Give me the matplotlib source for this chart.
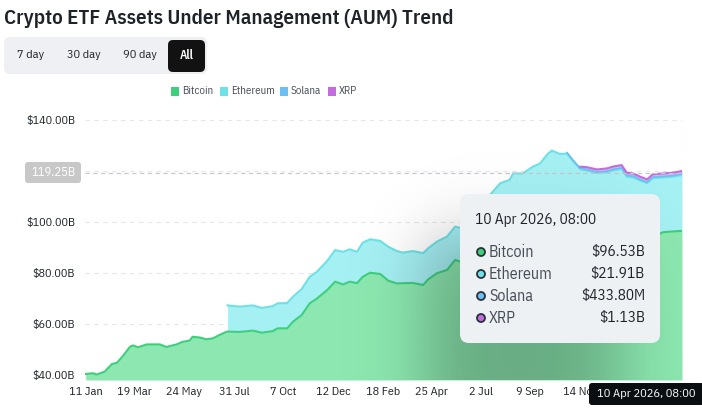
import numpy as np
import matplotlib.pyplot as plt
from matplotlib.patches import FancyBboxPatch, Rectangle, Circle

plt.rcParams['font.family'] = ['IBM Plex Sans Condensed', 'DejaVu Sans']

# days since 11 Jan 2024, values in $B
days = [0, 10, 15, 26, 36, 43, 51, 61, 65, 72, 84, 102, 111, 125, 133, 143, 147, 157,
        166, 175, 184, 194,
        195, 212, 230, 242, 257, 264, 277, 285, 297, 308, 318, 332, 343, 354, 363, 373,
        381, 391, 405, 416, 428, 436, 450, 464, 471, 483, 497, 508, 515, 533, 556, 570,
        583, 588, 601, 615, 625, 636, 641, 652, 662, 670, 680, 689, 703, 717, 725, 737,
        744, 753, 762, 772, 780, 794, 808, 820]
bitcoin = [40.4, 40.7, 40.2, 41.3, 44.3, 44.8, 47.4, 51.1, 51.6, 50.9, 52.0, 52.0, 51.0,
           52.0, 53.0, 53.5, 55.0, 54.7, 54.0, 54.4, 55.7, 57.0,
           57.0, 56.9, 57.4, 56.6, 57.2, 58.3, 58.3, 60.9, 63.5, 68.1, 70.0, 73.3, 76.6,
           75.5, 76.6, 76.0, 78.5, 80.1, 79.6, 77.0, 75.9, 76.0, 76.1, 75.3, 77.5, 79.9,
           81.2, 85.1, 84.5, 85.8, 93.6, 96.2, 94.5, 96.6, 95.0, 95.7, 96.0, 98.9, 99.5,
           98.7, 99.7, 97.8, 95.9, 95.6, 95.0, 95.5, 96.0, 96.5, 94.5, 94.0, 93.2, 92.5,
           94.2, 96.0, 96.3, 96.53]
ethereum = [np.nan] * 22 + [
           10.3, 9.9, 9.9, 9.7, 9.8, 9.8, 9.9, 9.8, 10.2, 10.4, 10.5, 11.4, 12.4, 12.8,
           12.7, 12.3, 13.4, 13.1, 13.0, 13.3, 12.7, 12.0, 12.5, 12.5, 12.2, 12.4, 13.1,
           13.1, 13.2, 15.0, 17.0, 19.0, 22.0, 22.5, 24.0, 26.0, 27.0, 28.0, 28.5, 28.0,
           27.1, 26.1, 24.8, 24.6, 24.2, 24.0, 24.2, 24.3, 23.3, 23.5, 23.1, 22.7, 23.0,
           21.45, 21.45, 21.91]
solana = [0.0] * 62 + [0.40, 0.40, 0.40, 0.41, 0.41, 0.42, 0.42, 0.42, 0.42, 0.42, 0.43,
                       0.43, 0.43, 0.43, 0.43, 0.434]
xrp = [0.0] * 64 + [0.6, 0.9, 1.0, 1.1, 1.1, 1.1, 1.1, 1.1, 1.1, 1.1, 1.1, 1.15, 1.15, 1.13]

series_names = ['Bitcoin', 'Ethereum', 'Solana', 'XRP']
series_fill = ['#8ce8b0', '#a5f0f3', '#a9d8f7', '#dfb6ef']
series_line = ['#3ecf7d', '#6fe1e6', '#6cbff2', '#c46be0']
tooltip_values = ['$96.53B', '$21.91B', '$433.80M', '$1.13B']

tick_days = [0, 67, 135, 204, 271, 340, 409, 475, 544, 611, 680]
tick_labels = ['11 Jan', '19 Mar', '24 May', '31 Jul', '7 Oct', '12 Dec', '18 Feb',
               '25 Apr', '2 Jul', '9 Sep', '14 Nov']
y_ticks = [40, 60, 80, 100, 120, 140]
y_labels = ['$40.00B', '$60.00B', '$80.00B', '$100.00B', '', '$140.00B']
hover_value = 119.25
hover_label = '10 Apr 2026, 08:00'

d = np.array(days, dtype=float)
btc = np.array(bitcoin)
eth = np.array(ethereum)
sol = np.array(solana)
xr = np.array(xrp)
ymin = 38.04

fig = plt.figure(figsize=(7.02, 4.08), dpi=100)
W, H = 702, 408
ax = fig.add_axes([85 / W, 28 / H, 597 / W, 260 / H])

top_btc = btc
top_eth = btc + eth
has_eth = ~np.isnan(eth)
top_sol = top_eth + sol
top_xrp = top_sol + xr

ax.fill_between(d, ymin, top_btc, color=series_fill[0], lw=0, zorder=2)
ax.fill_between(d, top_btc, top_eth, where=has_eth, color=series_fill[1], lw=0, zorder=2)
ax.fill_between(d, top_eth, top_sol, where=sol > 0, color=series_fill[2], lw=0, zorder=2)
ax.fill_between(d, top_sol, top_xrp, where=xr > 0, color=series_fill[3], lw=0, zorder=2)
ax.plot(d, top_btc, color=series_line[0], lw=1.5, zorder=3)
ax.plot(d[has_eth], top_eth[has_eth], color=series_line[1], lw=1.5, zorder=3)
ax.plot(d[sol > 0], top_sol[sol > 0], color=series_line[2], lw=1.2, zorder=3)
ax.plot(d[xr > 0], top_xrp[xr > 0], color=series_line[3], lw=1.5, zorder=4)

ax.set_xlim(-1, 820)
ax.set_ylim(ymin, 140)
ax.set_yticks(y_ticks)
ax.set_yticklabels(y_labels)
ax.set_xticks(tick_days)
ax.set_xticklabels(tick_labels)
ax.tick_params(length=0, labelsize=8.7, colors='#1e2329')
ax.tick_params(axis='y', pad=7)
ax.tick_params(axis='x', pad=5)
ax.yaxis.grid(True, ls=(0, (4, 4)), color='#e4e6e9', lw=0.8, zorder=0)
for s in ax.spines.values():
    s.set_visible(False)
ax.axhline(hover_value, ls=(0, (4, 3)), color='#c3c7cd', lw=0.8, zorder=5)
ax.axvline(820, ymin=0, ymax=1, ls=(0, (4, 3)), color='#c3c7cd', lw=0.8, zorder=5)

# overlay in pixel coordinates
ov = fig.add_axes([0, 0, 1, 1], zorder=10)
ov.set_xlim(0, W)
ov.set_ylim(H, 0)
ov.axis('off')

# tooltip shadow
xs = np.arange(85, 682) + 0.5
ys = np.arange(120, 380) + 0.5
sx = 0.5 * (np.tanh((xs - 425) / 40) - np.tanh((xs - 620) / 45))
sy = 0.5 * (np.tanh((ys - 235) / 40) - np.tanh((ys - 460) / 40))
shadow = np.zeros((len(ys), len(xs), 4))
shadow[..., 3] = 0.26 * np.outer(sy, sx)
ov.imshow(shadow, extent=(85, 682, 380, 120), interpolation='bilinear', zorder=1)
ov.set_aspect('auto')
ov.set_xlim(0, W)
ov.set_ylim(H, 0)

# title
ov.text(4, 19, 'Crypto ETF Assets Under Management (AUM) Trend', fontsize=15,
        color='#1e2329', va='center', ha='left', weight=600)

# period buttons
ov.add_patch(FancyBboxPatch((4, 37), 203, 37, boxstyle='round,pad=0,rounding_size=6',
                            fc='#eef0f3', ec='none'))
ov.add_patch(FancyBboxPatch((168, 40), 37, 32, boxstyle='round,pad=0,rounding_size=5',
                            fc='#121212', ec='none'))
for label, cx in zip(['7 day', '30 day', '90 day'], [31, 84, 140]):
    ov.text(cx, 55.5, label, fontsize=8.8, color='#1e2329', ha='center', va='center')
ov.text(187, 55.5, 'All', fontsize=8.8, color='white', ha='center', va='center', weight=600)

# legend
for name, col, sxp, tx in zip(series_names, series_line, [171, 220, 280, 328],
                              [182, 231, 291, 339]):
    ov.add_patch(Rectangle((sxp, 87), 8, 9, fc=col, ec='none'))
    ov.text(tx, 91.5, name, fontsize=7.8, color='#474d57', ha='left', va='center')

# hover y badge
ov.add_patch(FancyBboxPatch((25, 162), 56, 21, boxstyle='round,pad=0,rounding_size=3',
                            fc='#c8c8c8', ec='none'))
ov.text(53, 172.5, '119.25B', fontsize=9, color='white', ha='center', va='center')

# hover x badge
ov.add_patch(FancyBboxPatch((589, 383), 115, 22, boxstyle='round,pad=0,rounding_size=3',
                            fc='#0b0e11', ec='none'))
ov.text(646, 394, hover_label, fontsize=8.9, color='white', ha='center', va='center')

# tooltip
ov.add_patch(FancyBboxPatch((460, 194), 200, 149, boxstyle='round,pad=0,rounding_size=9',
                            fc='#eef1f4', ec='none', zorder=3))
ov.text(475, 220, hover_label, fontsize=11, color='#1e2329', ha='left', va='center', zorder=4)
for i, (name, col, val) in enumerate(zip(series_names, series_line, tooltip_values)):
    yy = 252 + 22 * i
    ov.add_patch(Circle((481, yy), 4, fc=col, ec='#2b3139', lw=1.3, zorder=4))
    ov.text(489, yy, name, fontsize=11.5, color='#474d57', ha='left', va='center', zorder=4)
    ov.text(645, yy, val, fontsize=11, color='#1e2329', ha='right', va='center', zorder=4)

fig.savefig('out.png', dpi=100)
